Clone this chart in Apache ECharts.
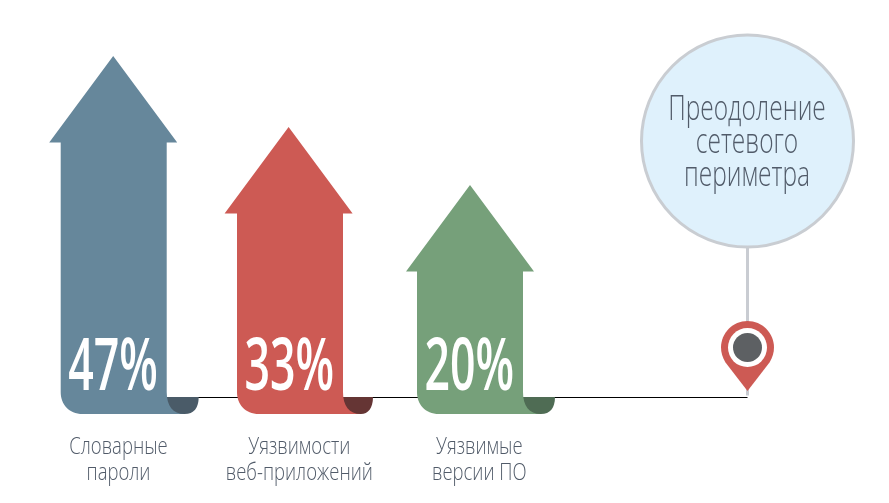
<!DOCTYPE html>
<html><head><meta charset="utf-8">
<style>html,body{margin:0;padding:0;background:#fff}#c{width:889px;height:503px}</style>
<script src="https://cdn.jsdelivr.net/npm/echarts@6/dist/echarts.min.js"></script>
</head><body><div id="c"></div>
<script>
// ---- data ----
const categories = ["Словарные\nпароли", "Уязвимости\nвеб-приложений", "Уязвимые\nверсии ПО"];
const percents = [47, 33, 20];
const arrowHeights = [358, 287, 229];   // drawn arrow height, on the hidden y axis
const milestone = "Преодоление\nсетевого\nпериметра";

// ---- layout & style ----
const slotX = [113.7, 290, 470];
const headX = [113.2, 288.6, 470];
const labelX = [118.5, 299.3, 479.3];
const foldW = [32, 30, 32];
const milestoneX = 747.5;
const lineLevel = 16.5;        // height of the baseline above the arrow feet
const mainColors = ["#66879b", "#cd5a54", "#76a07a"];
const foldColors = ["#4a5b68", "#653534", "#4f6c54"];
const textColor = "#515b69";
const fontFamily = '"Open Sans"';

function renderArrow(params, api) {
  const i = params.dataIndex;
  const top = api.coord([api.value(0), api.value(1)]);
  const foot = api.coord([api.value(0), 0]);
  const cx = top[0], yT = top[1], yB = foot[1];
  const hw = 53, headW = 64, headH = 86.5, r = 22;
  const ax = headX[i], fw = foldW[i];
  const yH = yT + headH, L = cx - hw, R = cx + hw, yF = yB - 17;
  const main = `M${ax} ${yT}L${ax + headW} ${yH}L${R} ${yH}L${R} ${yB - 22}` +
    `C${R} ${yB - 8} ${R + 6} ${yB} ${R + 18} ${yB}L${L + r} ${yB}` +
    `C${L + 8} ${yB} ${L} ${yB - 10} ${L} ${yB - r}L${L} ${yH}L${ax - headW} ${yH}Z`;
  const fold = `M${R} ${yF}L${R + fw} ${yF}C${R + fw} ${yB - 6} ${R + fw - 5} ${yB} ${R + 18} ${yB}L${R} ${yB}Z`;
  return {
    type: "group",
    children: [
      { type: "path", shape: { pathData: fold }, style: { fill: foldColors[i] }, z2: 2 },
      { type: "path", shape: { pathData: main }, style: { fill: mainColors[i] }, z2: 3 },
      { type: "text", x: cx - 0.7, y: yB - 44.5, scaleX: 0.62, z2: 4,
        style: { text: percents[i] + "%", fill: "#fff", align: "center", verticalAlign: "middle",
                 font: `600 72px ${fontFamily}` } },
      { type: "text", x: labelX[i], y: yB + 20, scaleX: 0.77, z2: 4,
        style: { text: categories[i], fill: textColor, align: "center", verticalAlign: "top",
                 font: `300 24px ${fontFamily}`, lineHeight: 26 } }
    ]
  };
}

function renderBaseline(params, api) {
  const a = api.coord([api.value(0), lineLevel]);
  const b = api.coord([milestoneX, lineLevel]);
  return { type: "line", shape: { x1: a[0], y1: a[1], x2: b[0], y2: b[1] },
           style: { stroke: "#000", lineWidth: 1 }, z2: 1 };
}

function renderMilestone(params, api) {
  const foot = api.coord([api.value(0), lineLevel]);
  const x = foot[0], yL = foot[1];
  const cy = 141, R = 106, py = 347.6, pr = 26.5, tip = 391;
  const pin = `M${x} ${tip}L${x - 22} ${py + 15}C${x - 25} ${py + 10} ${x - pr} ${py + 5} ${x - pr} ${py}` +
    `C${x - pr} ${py - 14.6} ${x - 14.6} ${py - pr} ${x} ${py - pr}` +
    `C${x + 14.6} ${py - pr} ${x + pr} ${py - 14.6} ${x + pr} ${py}` +
    `C${x + pr} ${py + 5} ${x + 25} ${py + 10} ${x + 22} ${py + 15}Z`;
  return {
    type: "group",
    children: [
      { type: "line", shape: { x1: x, y1: cy + R, x2: x, y2: yL - 2 },
        style: { stroke: "#c9ccd2", lineWidth: 3 }, z2: 1 },
      { type: "circle", shape: { cx: x, cy, r: R },
        style: { fill: "#dff1fc", stroke: "#c9cdd2", lineWidth: 3 }, z2: 2 },
      { type: "path", shape: { pathData: pin }, style: { fill: "#cd5a54" }, z2: 3 },
      { type: "circle", shape: { cx: x, cy: py, r: 19.5 }, style: { fill: "#fff" }, z2: 4 },
      { type: "circle", shape: { cx: x, cy: py, r: 14.5 }, style: { fill: "#5d6063" }, z2: 5 },
      { type: "text", x: x - 0.5, y: cy - 47.5, scaleX: 0.7, z2: 6,
        style: { text: milestone, fill: textColor, align: "center", verticalAlign: "top",
                 font: `300 35px ${fontFamily}`, lineHeight: 33 } }
    ]
  };
}

const chart = echarts.init(document.getElementById("c"), null, { renderer: "canvas" });
chart.setOption({
  backgroundColor: "#fff",
  animation: false,
  grid: { left: 0, right: 0, top: 0, bottom: 89 },
  xAxis: { type: "value", min: 0, max: 889, show: false },
  yAxis: { type: "value", min: 0, max: 414, show: false },
  series: [
    { type: "custom", name: "baseline", renderItem: renderBaseline, clip: false, z: 1,
      data: [[slotX[0] + 53]] },
    { type: "custom", name: "milestone", renderItem: renderMilestone, clip: false, z: 2,
      data: [[milestoneX]] },
    { type: "custom", name: "arrows", renderItem: renderArrow, clip: false, z: 3,
      data: slotX.map((x, i) => [x, arrowHeights[i]]) }
  ]
});
</script></body></html>
